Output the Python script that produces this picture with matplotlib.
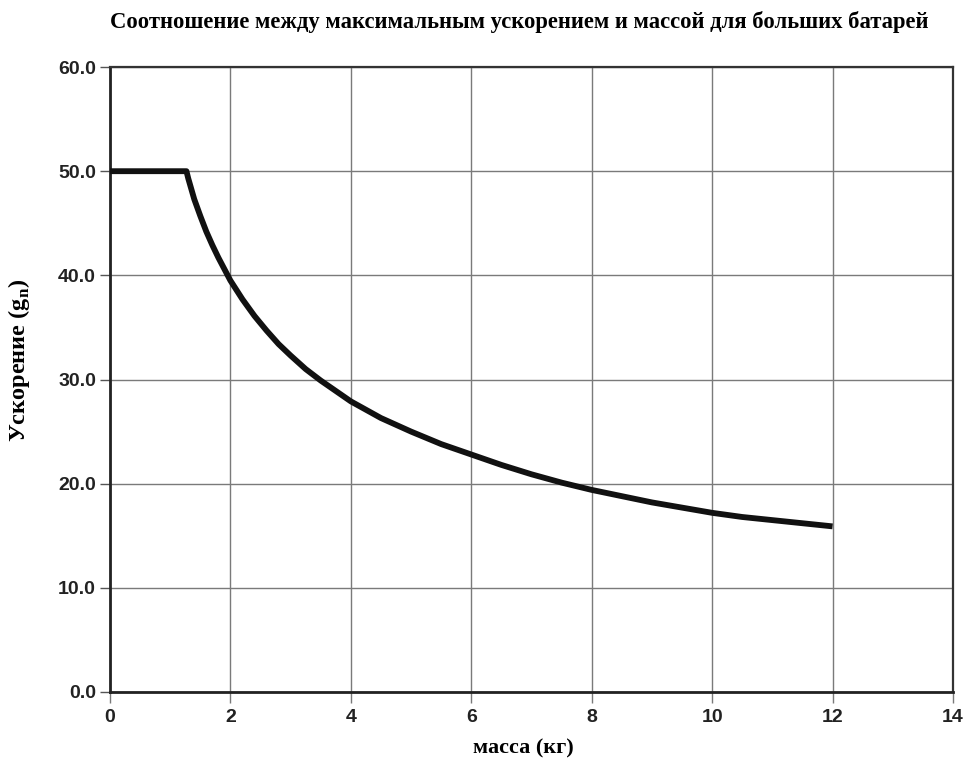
import matplotlib
matplotlib.use("Agg")
from matplotlib import pyplot

# values
mass_kg = [0, 1.27, 1.3, 1.4, 1.5, 1.6, 1.7, 1.8, 1.9, 2.0, 2.2, 2.4, 2.6,
           2.8, 3.0, 3.25, 3.5, 3.75, 4.0, 4.5, 5.0, 5.5, 6.0, 6.5, 7.0,
           7.5, 8.0, 8.5, 9.0, 9.5, 10.0, 10.5, 11.0, 11.5, 12.0]
accel_gn = [50.0, 50.0, 49.3, 47.3, 45.7, 44.2, 42.9, 41.7, 40.6, 39.5,
            37.7, 36.1, 34.7, 33.4, 32.3, 31.0, 29.9, 28.9, 27.9, 26.3,
            25.0, 23.8, 22.8, 21.8, 20.9, 20.1, 19.4, 18.8, 18.2, 17.7,
            17.2, 16.8, 16.5, 16.2, 15.9]

x_ticks = [0, 2, 4, 6, 8, 10, 12, 14]
y_ticks = [0, 10, 20, 30, 40, 50, 60]

title = "Соотношение между максимальным ускорением и массой для больших батарей"
xlabel = "масса (кг)"
ylabel = "Ускорение (g$_\\mathregular{n}$)"

serif = ["Liberation Serif", "DejaVu Serif"]
sans = ["Liberation Sans", "DejaVu Sans"]

fig = pyplot.figure(figsize=(9.69, 7.6), dpi=100)
ax = fig.add_axes([0.1135, 0.0895, 0.87, 0.8223])

ax.plot(mass_kg, accel_gn, color="#111111", lw=4.2,
        solid_capstyle="butt", solid_joinstyle="round", zorder=3)

ax.set_xlim(0, 14)
ax.set_ylim(0, 60)
ax.set_xticks(x_ticks)
ax.set_yticks(y_ticks)
ax.set_xticklabels([str(v) for v in x_ticks])
ax.set_yticklabels(["{:.1f}".format(v) for v in y_ticks])
for lbl in ax.get_xticklabels() + ax.get_yticklabels():
    lbl.set_family(sans)
    lbl.set_fontweight("bold")
    lbl.set_fontsize(14)
    lbl.set_color("#222222")

ax.grid(True, color="#7a7a7a", lw=1.0)
ax.set_axisbelow(True)
ax.tick_params(axis="x", direction="out", length=8, width=1,
               color="#7a7a7a", pad=4)
ax.tick_params(axis="y", direction="out", length=7, width=1,
               color="#555555", pad=3)

for side in ("left", "bottom"):
    ax.spines[side].set_linewidth(2.0)
    ax.spines[side].set_color("#222222")
for side in ("top", "right"):
    ax.spines[side].set_linewidth(1.6)
    ax.spines[side].set_color("#333333")

ax.set_xlabel(xlabel, family=serif, fontweight="bold", fontsize=16)
ax.xaxis.set_label_coords(0.49, -0.074)
ax.set_ylabel(ylabel, family=serif, fontweight="bold", fontsize=17.5)
ax.yaxis.set_label_coords(-0.092, 0.53)
fig.text(0.536, 0.971, title, family=serif, fontweight="bold",
         fontsize=16.3, ha="center", va="center")

fig.savefig("out.png", dpi=100)
